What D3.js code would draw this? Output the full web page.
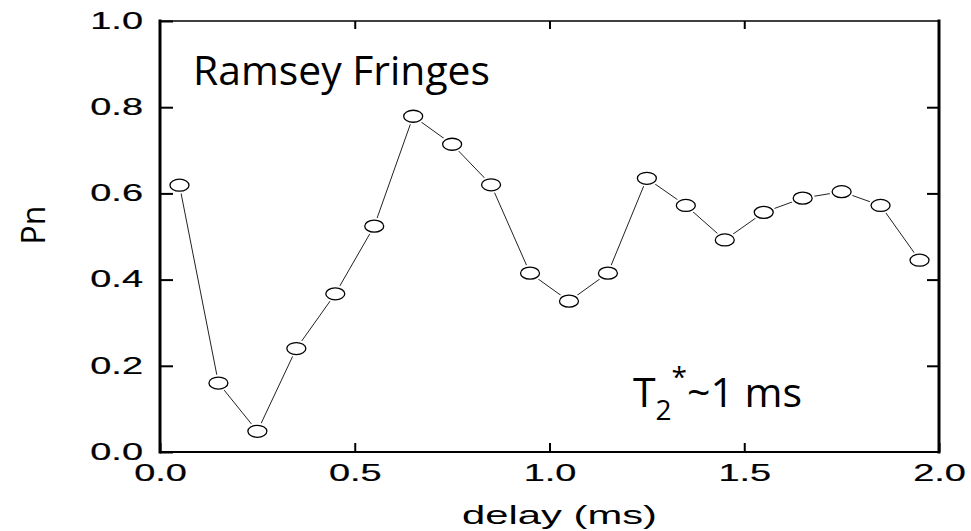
<!DOCTYPE html>
<html>
<head>
<meta charset="utf-8">
<script src="https://cdn.jsdelivr.net/npm/d3@7/dist/d3.min.js"></script>
<style>
  html, body { margin: 0; padding: 0; background: #fff; }
  svg { display: block; }
</style>
</head>
<body>
<svg id="chart" width="971" height="531"></svg>
<script>
// Ramsey fringe measurement: population vs. free-evolution delay
const delays = [0.05, 0.15, 0.25, 0.35, 0.45, 0.55, 0.65, 0.75, 0.85, 0.95,
                1.05, 1.15, 1.25, 1.35, 1.45, 1.55, 1.65, 1.75, 1.85, 1.95];
const pn = [0.619, 0.160, 0.048, 0.240, 0.367, 0.524, 0.779, 0.714, 0.620, 0.415,
            0.350, 0.415, 0.635, 0.572, 0.492, 0.556, 0.589, 0.604, 0.572, 0.445];
const xTickValues = [0, 0.5, 1.0, 1.5, 2.0];
const yTickValues = [0, 0.2, 0.4, 0.6, 0.8, 1.0];
const xTitle = "delay (ms)";
const yTitle = "Pn";
const plotTitle = "Ramsey Fringes";

const svg = d3.select("#chart");
const x = d3.scaleLinear().domain([0, 2]).range([160, 939]);
const y = d3.scaleLinear().domain([0, 1]).range([452, 21]);
const fmt = d3.format(".1f");
const labelFont = "'Liberation Sans', Arial, sans-serif";
const stretch = 1.65;

// widen the tick label glyphs horizontally around their anchor
function widen(sel) {
  sel.selectAll("text").each(function () {
    const t = d3.select(this);
    const tx = +t.attr("x") || 0;
    t.attr("x", tx / stretch).attr("transform", `scale(${stretch},1)`);
  });
}

function cleanAxis(g) {
  g.select(".domain").remove();
  g.selectAll(".tick line").attr("stroke", "#000").attr("stroke-width", 2);
  g.selectAll("text").attr("fill", "#000")
    .attr("stroke", "#000").attr("stroke-width", 0.2)
    .style("font-family", labelFont).style("font-size", "23px");
}

// left axis with labels, ticks pointing inward
svg.append("g").attr("transform", `translate(${x(0)},0)`)
  .call(d3.axisLeft(y).tickValues(yTickValues).tickFormat(fmt).tickSize(-13).tickPadding(17))
  .call(cleanAxis).call(widen);

// right axis, ticks only
svg.append("g").attr("transform", `translate(${x(2)},0)`)
  .call(d3.axisRight(y).tickValues(yTickValues.slice(1, -1)).tickFormat("").tickSize(-12))
  .call(cleanAxis);

// bottom axis with labels
svg.append("g").attr("transform", `translate(0,${y(0)})`)
  .call(d3.axisBottom(x).tickValues(xTickValues).tickFormat(fmt).tickSize(-9).tickPadding(13))
  .call(cleanAxis).call(widen);

// top axis, ticks only
svg.append("g").attr("transform", `translate(0,${y(1)})`)
  .call(d3.axisTop(x).tickValues(xTickValues.slice(1, -1)).tickFormat("").tickSize(-8))
  .call(cleanAxis);

// plot frame with heavier vertical sides
const frame = svg.append("g").attr("stroke", "#000").attr("stroke-linecap", "square");
frame.append("line").attr("x1", x(0)).attr("x2", x(0)).attr("y1", y(1)).attr("y2", y(0)).attr("stroke-width", 3);
frame.append("line").attr("x1", x(2)).attr("x2", x(2)).attr("y1", y(1)).attr("y2", y(0)).attr("stroke-width", 3);
frame.append("line").attr("x1", x(0)).attr("x2", x(2)).attr("y1", y(0)).attr("y2", y(0)).attr("stroke-width", 2);
frame.append("line").attr("x1", x(0)).attr("x2", x(2)).attr("y1", y(1)).attr("y2", y(1)).attr("stroke-width", 1.5);

// connecting line
const pts = delays.map((d, i) => [d, pn[i]]);
svg.append("path")
  .datum(pts)
  .attr("fill", "none")
  .attr("stroke", "#222")
  .attr("stroke-width", 1)
  .attr("d", d3.line().x(d => x(d[0])).y(d => y(d[1])));

// open elliptical markers with a small white gap around them
const marks = svg.append("g");
marks.selectAll("ellipse.halo").data(pts).join("ellipse")
  .attr("class", "halo")
  .attr("cx", d => x(d[0])).attr("cy", d => y(d[1]))
  .attr("rx", 12).attr("ry", 8.5)
  .attr("fill", "#fff");
marks.selectAll("ellipse.mk").data(pts).join("ellipse")
  .attr("class", "mk")
  .attr("cx", d => x(d[0])).attr("cy", d => y(d[1]))
  .attr("rx", 9.5).attr("ry", 6)
  .attr("fill", "#fff")
  .attr("stroke", "#000")
  .attr("stroke-width", 1.3);

// axis titles
svg.append("text")
  .attr("x", 462).attr("y", 524)
  .attr("textLength", 195).attr("lengthAdjust", "spacingAndGlyphs")
  .style("font-family", labelFont).style("font-size", "25px")
  .attr("fill", "#000")
  .text(xTitle);

svg.append("text")
  .attr("transform", "translate(45,225) rotate(-90)")
  .attr("text-anchor", "middle")
  .style("font-family", "'Open Sans', sans-serif").style("font-size", "32px")
  .attr("fill", "#000")
  .text(yTitle);

// annotations
svg.append("text")
  .attr("x", 193).attr("y", 85)
  .attr("textLength", 297).attr("lengthAdjust", "spacingAndGlyphs")
  .style("font-family", "'Open Sans', sans-serif").style("font-size", "41px")
  .attr("fill", "#000")
  .text(plotTitle);

const t2 = svg.append("text")
  .attr("x", 633).attr("y", 407)
  .style("font-family", "'Open Sans', sans-serif").style("font-size", "41px")
  .attr("fill", "#000");
t2.append("tspan").text("T");
t2.append("tspan").attr("dy", 13).style("font-size", "28px").text("2");
t2.append("tspan").attr("dy", -33).style("font-size", "28px").text("*");
t2.append("tspan").attr("dy", 20).text("~1 ms");
</script>
</body>
</html>
